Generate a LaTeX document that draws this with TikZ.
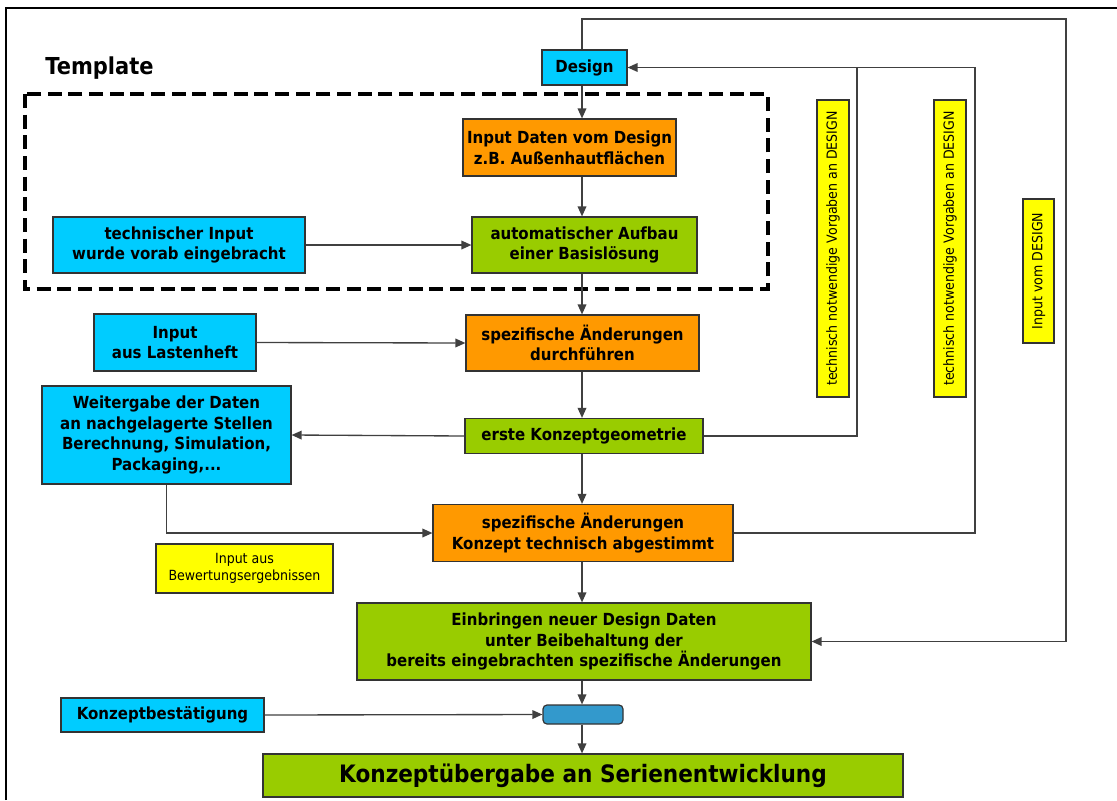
\documentclass[tikz,border=0pt]{standalone}
\usepackage{fontspec}
\setmainfont{DejaVu Sans}[FakeStretch=0.9]
\usetikzlibrary{arrows.meta,calc}
\definecolor{cyanB}{HTML}{00CCFF}
\definecolor{orangeB}{HTML}{FF9900}
\definecolor{greenB}{HTML}{99CC00}
\definecolor{yellowB}{HTML}{FFFF00}
\definecolor{smallB}{HTML}{3399CC}
\definecolor{bordc}{HTML}{333333}
\definecolor{connc}{HTML}{404040}
\tikzset{
  wh/.style 2 args={minimum width=#1*0.75pt, minimum height=#2*0.75pt},
  box/.style={draw=bordc, line width=0.9pt, inner sep=0pt, align=center,
    font=\bfseries\fontsize{12.5}{15.5}\selectfont, text=black},
  ybox/.style={draw=bordc, line width=0.9pt, inner sep=0pt, align=center, fill=yellowB,
    font=\fontsize{10.5}{12.5}\selectfont, text=black},
  conn/.style={draw=connc, line width=1pt},
  arr/.style={conn, -{Triangle[length=7.5pt,width=6.5pt]}},
}
\begin{document}
\begin{tikzpicture}[x=0.75pt,y=-0.75pt]
\useasboundingbox (0,0) rectangle (1117,800);
% frame
\draw[black, line width=1.2pt] (6,800) -- (6,8) -- (1117,8);
% template
\node[font=\bfseries\fontsize{17.5}{20}\selectfont, anchor=west, inner sep=0] (tpl) at (45,68) {Template};
\draw[line width=3pt, dash pattern=on 10.5pt off 5pt] (25,94) rectangle (768,289);
% column coordinate
\coordinate (col) at (582,0);
\coordinate (tl) at (582,19);
\coordinate (tr) at (1066,19);
\coordinate (v1) at (857,0);
\coordinate (v2) at (975,0);
% nodes
\node[box, fill=cyanB, wh={85}{35}] (design) at (584.5,67.5) {Design};
\node[box, fill=orangeB, wh={213}{57}] (inp) at (569.5,147.5) {Input Daten vom Design\\z.B. Außenhautflächen};
\node[box, fill=greenB, wh={225}{56}] (auto) at (584.5,245) {automatischer Aufbau\\einer Basislösung};
\node[box, fill=cyanB, wh={252}{56}] (tech) at (179,245) {technischer Input\\wurde vorab eingebracht};
\node[box, fill=orangeB, wh={233}{56}] (spez1) at (582.5,343) {spezifische Änderungen\\durchführen};
\node[box, fill=cyanB, wh={162}{57}] (last) at (175,342.5) {Input\\aus Lastenheft};
\node[box, fill=greenB, wh={238}{35}] (erste) at (584,436) {erste Konzeptgeometrie};
\node[box, fill=cyanB, wh={249}{98}] (weiter) at (166.5,435) {Weitergabe der Daten\\an nachgelagerte Stellen\\Berechnung, Simulation,\\Packaging,...};
\node[box, fill=orangeB, wh={300}{57}] (spez2) at (583,533) {spezifische Änderungen\\Konzept technisch abgestimmt};
\node[ybox, wh={177}{49}] (bew) at (244.5,568.5) {Input aus\\Bewertungsergebnissen};
\node[box, fill=greenB, wh={454}{77}] (einbr) at (584,641.5) {Einbringen neuer Design Daten\\unter Beibehaltung der\\bereits eingebrachten spezifische Änderungen};
\node[draw=bordc, line width=0.9pt, fill=smallB, rounded corners=3pt, wh={80}{19}] (small) at (583,714.5) {};
\node[box, fill=cyanB, wh={203}{34}] (best) at (162.5,715) {Konzeptbestätigung};
\node[box, fill=greenB, wh={640}{43}, font=\bfseries\fontsize{18}{20}\selectfont] (final) at (583,775.5) {Konzeptübergabe an Serienentwicklung};
\node[ybox, rotate=90, wh={297}{32}] (y1) at (833,248.5) {technisch notwendige Vorgaben an DESIGN};
\node[ybox, rotate=90, wh={297}{32}] (y2) at (950,248.5) {technisch notwendige Vorgaben an DESIGN};
\node[ybox, rotate=90, wh={144}{31}] (y3) at (1038.5,271) {Input vom DESIGN};
% main column arrows
\draw[arr] (design.south -| col) -- (inp.north -| col);
\draw[arr] (inp.south -| col) -- (auto.north -| col);
\draw[arr] (auto.south -| col) -- (spez1.north -| col);
\draw[arr] (spez1.south -| col) -- (erste.north -| col);
\draw[arr] (erste.south -| col) -- (spez2.north -| col);
\draw[arr] (spez2.south -| col) -- (einbr.north -| col);
\draw[arr] (einbr.south -| col) -- (small.north -| col);
\draw[arr] (small.south -| col) -- (final.north -| col);
% side inputs
\draw[arr] (tech.east) -- (auto.west);
\draw[arr] (last.east) -- (spez1.west);
\draw[arr] (erste.west) -- (weiter.east);
\draw[arr] (weiter.south) |- (spez2.west);
\draw[arr] (best.east) -- (small.west);
% feedback loops
\draw[arr] (design.north -| tl) -- (tl) -- (tr) |- (einbr.east);
\draw[arr] (erste.east) -| (v1 |- design.east) -- (design.east);
\draw[conn] (spez2.east) -| (v2 |- design.east) -- (v1 |- design.east);
\end{tikzpicture}
\end{document}
